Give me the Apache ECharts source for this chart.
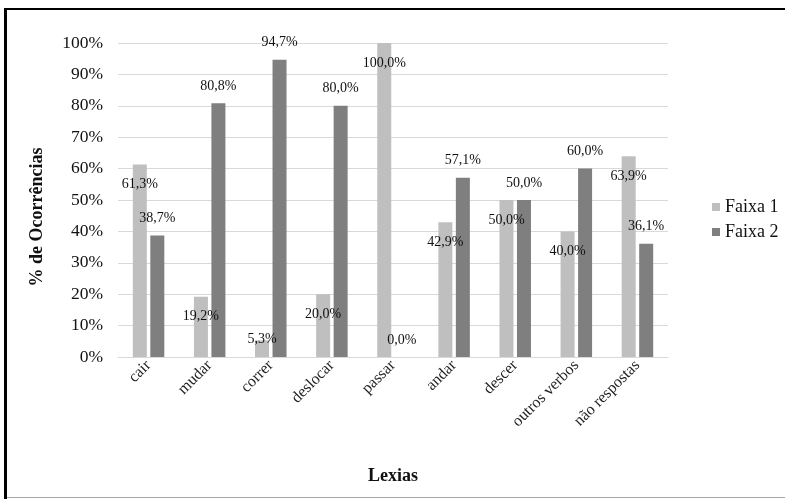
<!DOCTYPE html>
<html>
<head>
<meta charset="utf-8">
<script src="https://cdn.jsdelivr.net/npm/echarts@6/dist/echarts.min.js"></script>
<style>html,body{margin:0;padding:0;background:#fff;}#c{width:785px;height:499px;}</style>
</head>
<body>
<div id="c"></div>
<script>
var categories = ['cair', 'mudar', 'correr', 'deslocar', 'passar', 'andar', 'descer', 'outros verbos', 'não respostas'];
var faixa1 = [61.3, 19.2, 5.3, 20.0, 100.0, 42.9, 50.0, 40.0, 63.9];
var faixa2 = [38.7, 80.8, 94.7, 80.0, 0.0, 57.1, 50.0, 60.0, 36.1];
var yTicks = [0, 10, 20, 30, 40, 50, 60, 70, 80, 90, 100];

var FONT = '"Liberation Serif", "Times New Roman", serif';
var chart = echarts.init(document.getElementById('c'));
function fmt(v) { return v.toFixed(1).replace('.', ',') + '%'; }

var d1 = faixa1.map(function (v) {
  var item = { value: v };
  if (v < 10) item.label = { position: 'top', distance: -6 };
  return item;
});

chart.setOption({
  animation: false,
  backgroundColor: '#fff',
  grid: { left: 118, right: 117, top: 43, bottom: 142 },
  legend: {
    orient: 'vertical', left: 712, top: 198, padding: 0,
    itemWidth: 8, itemHeight: 8, itemGap: 7, itemTextGap: 2,
    icon: 'rect',
    textStyle: { fontFamily: FONT, fontSize: 18, color: '#111' },
    data: ['Faixa 1', 'Faixa 2']
  },
  xAxis: {
    type: 'category', data: categories,
    axisLine: { lineStyle: { color: '#d9d9d9', width: 1 } },
    axisTick: { show: false },
    axisLabel: { rotate: 45, fontFamily: FONT, fontSize: 16, color: '#222', margin: 6, interval: 0 },
    name: 'Lexias', nameLocation: 'middle', nameGap: 110,
    nameTextStyle: { fontFamily: FONT, fontSize: 18, fontWeight: 'bold', color: '#111' }
  },
  yAxis: {
    type: 'value', min: yTicks[0], max: yTicks[yTicks.length - 1], interval: 10,
    axisLine: { show: false }, axisTick: { show: false },
    axisLabel: { formatter: '{value}%', fontFamily: FONT, fontSize: 17.5, color: '#111', margin: 15 },
    splitLine: { lineStyle: { color: '#d9d9d9', width: 1 } }
  },
  series: [
    {
      name: 'Faixa 1', type: 'bar', data: d1, barWidth: 14, barGap: '25%',
      itemStyle: { color: '#bfbfbf' },
      label: { show: true, position: 'insideTop', distance: 13, formatter: function (p) { return fmt(p.value); },
        fontFamily: FONT, fontSize: 14, color: '#111' }
    },
    {
      name: 'Faixa 2', type: 'bar', data: faixa2, barWidth: 14,
      itemStyle: { color: '#7f7f7f' },
      label: { show: true, position: 'top', distance: 10, formatter: function (p) { return fmt(p.value); },
        fontFamily: FONT, fontSize: 14, color: '#111' }
    }
  ],
  graphic: [
    { type: 'rect', shape: { x: 4, y: 8, width: 781, height: 2 }, style: { fill: '#000' } },
    { type: 'rect', shape: { x: 4, y: 8, width: 3, height: 491 }, style: { fill: '#000' } },
    { type: 'rect', shape: { x: 7, y: 497, width: 778, height: 1 }, style: { fill: '#a6a6a6' } },
    { type: 'text', x: 37, y: 217, rotation: Math.PI / 2,
      style: { text: '% de Ocorrências', fontFamily: FONT, fontSize: 18, fontWeight: 'bold', fill: '#111',
        align: 'center', verticalAlign: 'middle' } }
  ]
});
</script>
</body>
</html>
